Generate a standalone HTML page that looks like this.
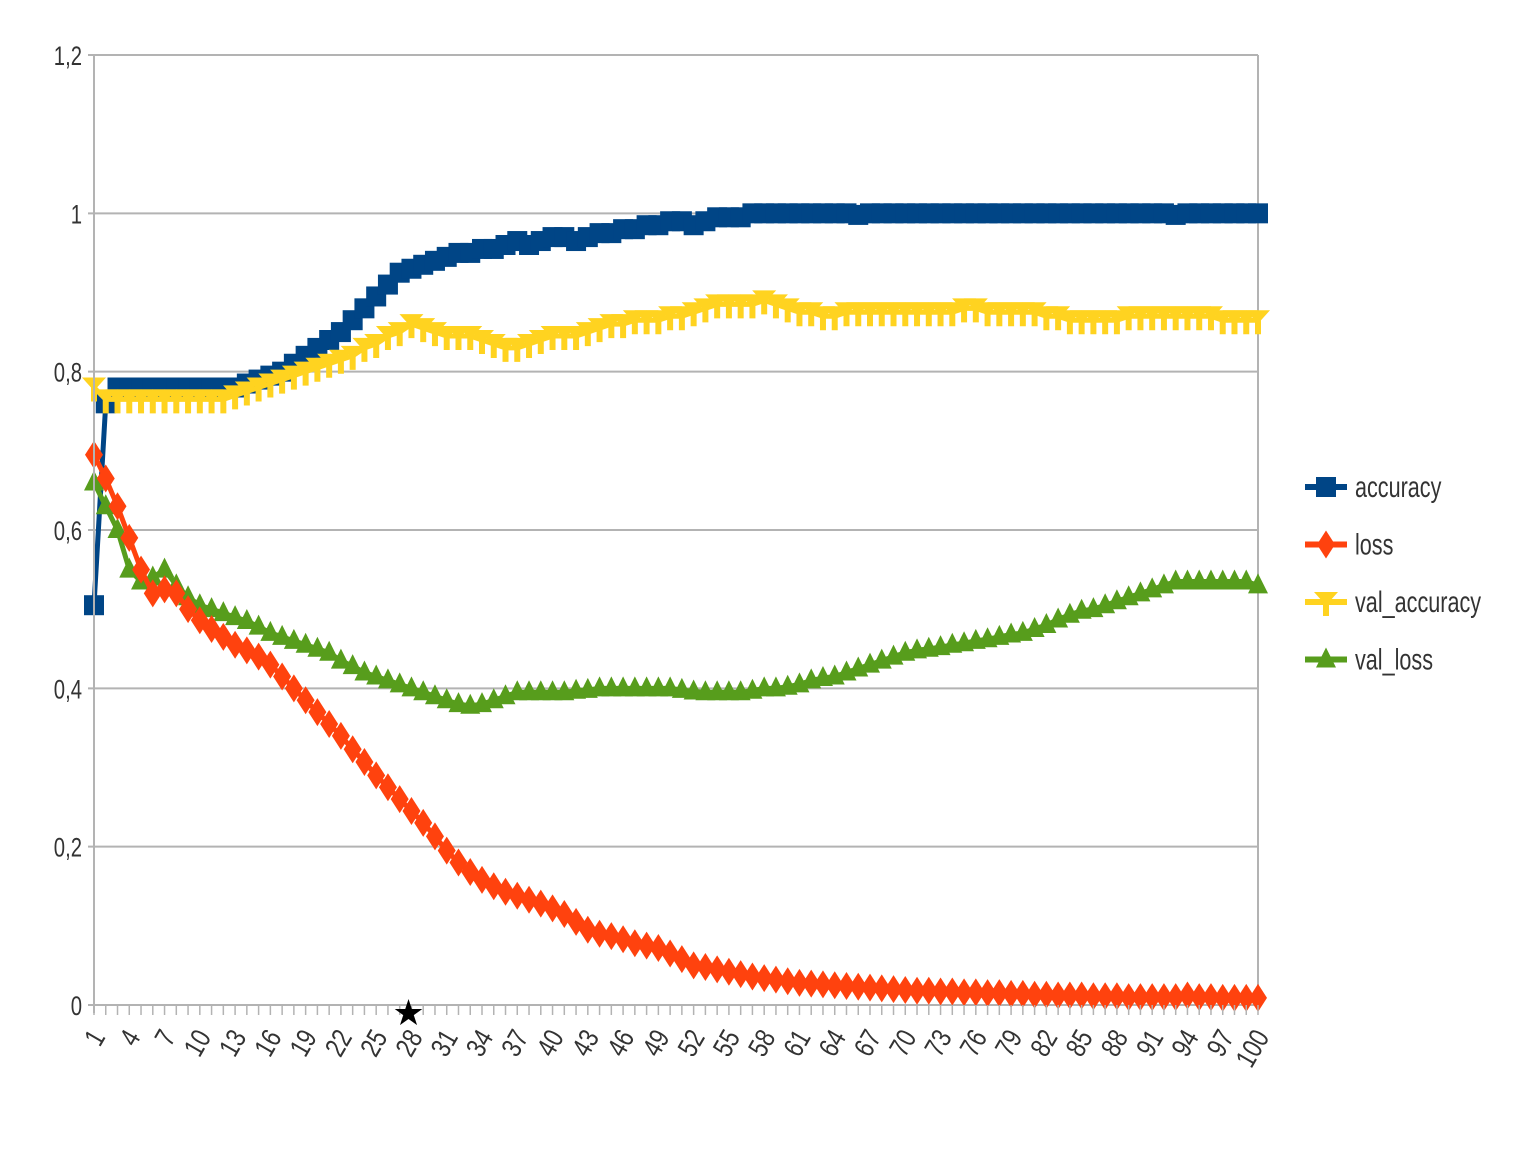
<!DOCTYPE html>
<html><head><meta charset="utf-8"><style>
body{margin:0;background:#fff;}
svg{display:block;font-family:"Liberation Sans Narrow","Liberation Sans",sans-serif;}
</style></head><body>
<svg id="chart" width="1525" height="1163" xmlns="http://www.w3.org/2000/svg">
<g id="grid"></g>
<g id="series"></g>
<g id="axes"></g>
<g id="legend"></g>
</svg>
<script>
const yTicks=[0,0.2,0.4,0.6,0.8,1,1.2];
const yTickLabels=["0","0,2","0,4","0,6","0,8","1","1,2"];
const seriesNames=["accuracy","loss","val_accuracy","val_loss"];
const accuracy=[.505,.76,.78,.78,.78,.78,.78,.78,.78,.78,.78,.78,.78,.785,.79,.795,.80,.81,.82,.83,.84,.85,.865,.88,.895,.91,.925,.93,.935,.94,.945,.95,.95,.955,.955,.96,.965,.96,.965,.97,.97,.965,.97,.975,.975,.98,.98,.985,.985,.99,.99,.985,.99,.995,.995,.995,1,1,1,1,1,1,1,1,1,.998,1,1,1,1,1,1,1,1,1,1,1,1,1,1,1,1,1,1,1,1,1,1,1,1,1,1,.998,1,1,1,1,1,1,1];
const valAccuracy=[.78,.765,.765,.765,.765,.765,.765,.765,.765,.765,.765,.765,.77,.775,.78,.785,.79,.795,.80,.805,.81,.815,.82,.83,.835,.845,.85,.86,.855,.85,.845,.845,.845,.84,.835,.83,.83,.835,.84,.845,.845,.845,.85,.855,.86,.86,.865,.865,.865,.87,.87,.875,.88,.885,.885,.885,.885,.89,.885,.88,.875,.875,.87,.87,.875,.875,.875,.875,.875,.875,.875,.875,.875,.875,.88,.88,.875,.875,.875,.875,.875,.87,.87,.865,.865,.865,.865,.865,.87,.87,.87,.87,.87,.87,.87,.87,.865,.865,.865,.865];
const loss=[.695,.665,.63,.59,.55,.52,.525,.52,.50,.486,.475,.465,.455,.448,.44,.43,.415,.40,.385,.37,.355,.34,.323,.307,.29,.275,.26,.245,.23,.213,.195,.18,.168,.158,.15,.143,.138,.133,.128,.122,.115,.105,.095,.09,.087,.083,.078,.075,.072,.065,.058,.05,.048,.045,.042,.039,.036,.034,.032,.03,.028,.027,.026,.025,.024,.023,.022,.021,.02,.019,.018,.018,.017,.017,.016,.016,.015,.015,.014,.014,.013,.013,.012,.012,.012,.011,.011,.011,.01,.01,.01,.01,.01,.012,.01,.01,.009,.009,.009,.009];
const valLoss=[.66,.63,.6,.55,.535,.54,.55,.53,.515,.505,.50,.495,.49,.485,.478,.47,.465,.46,.455,.45,.445,.435,.428,.42,.415,.41,.405,.40,.395,.39,.385,.38,.378,.38,.385,.39,.395,.395,.395,.395,.395,.397,.398,.40,.40,.40,.40,.40,.40,.40,.398,.396,.395,.395,.395,.395,.397,.40,.40,.402,.405,.41,.413,.415,.42,.425,.43,.435,.44,.445,.448,.45,.452,.455,.457,.46,.462,.465,.468,.47,.475,.48,.487,.493,.498,.50,.505,.51,.515,.52,.525,.53,.535,.535,.535,.535,.535,.535,.535,.53];
const starEpoch=28;

const NS="http://www.w3.org/2000/svg";
const X0=94,X1=1258,Y0=1005,Y1=55,N=100;
const xs=i=>X0+(i-1)*(X1-X0)/(N-1);
const ys=v=>Y0-(v/1.2)*(Y0-Y1);
function mk(tag,parent,attrs){const e=document.createElementNS(NS,tag);for(const k in attrs)e.setAttribute(k,attrs[k]);parent.appendChild(e);return e;}
function narrow(t,f){const w=t.getComputedTextLength();t.setAttribute('textLength',(w*f).toFixed(1));t.setAttribute('lengthAdjust','spacingAndGlyphs');}
const grid=document.getElementById('grid'),axes=document.getElementById('axes'),ser=document.getElementById('series'),leg=document.getElementById('legend');

yTicks.forEach((t,i)=>{
  const l=mk('line',grid,{x1:X0-6,x2:X1,y1:ys(t),y2:ys(t),stroke:'#b3b3b3','stroke-width':2});
  
  
  const tx=mk('text',axes,{x:X0-12,y:ys(t)+10,'text-anchor':'end','font-size':27,fill:'#333'});
  tx.textContent=yTickLabels[i];
  
  
  narrow(tx,0.75);
});
const ax=mk('line',axes,{x1:X0,x2:X0,y1:Y1,y2:Y0+8,stroke:'#b3b3b3','stroke-width':2});


const rx=mk('line',grid,{x1:X1,x2:X1,y1:Y1,y2:Y0,stroke:'#b3b3b3','stroke-width':2});


for(let i=1;i<=N;i++){
  const t=mk('line',axes,{x1:xs(i),x2:xs(i),y1:Y0,y2:Y0+10,stroke:'#b3b3b3','stroke-width':1.5});
  
  
  if((i-1)%3===0||i===N){
    const tx=mk('text',axes,{x:0,y:0,'text-anchor':'end','font-size':28,fill:'#333',transform:`translate(${xs(i)+12},${Y0+32}) rotate(-60)`});
    tx.textContent=String(i);
    
    
    narrow(tx,0.8);
  }
}
function marker(g,type,x,y,c,s){
  let e;
  if(type==='square')e=mk('rect',g,{x:x-s/2,y:y-s/2,width:s,height:s,fill:c});
  else if(type==='diamond')e=mk('polygon',g,{points:`${x},${y-s*0.7} ${x+s*0.45},${y} ${x},${y+s*0.7} ${x-s*0.45},${y}`,fill:c});
  else if(type==='cross')e=mk('path',g,{d:`M${x-s*0.6},${y-s*0.5}H${x+s*0.6}L${x+s*0.15},${y}V${y+s*0.7}H${x-s*0.15}V${y}Z`,fill:c});
  else e=mk('polygon',g,{points:`${x},${y-s*0.6} ${x+s*0.5},${y+s*0.4} ${x-s*0.5},${y+s*0.4}`,fill:c});
  return e;
}
const defs=[
  {name:'accuracy',data:accuracy,color:'#004586',m:'square'},
  {name:'val_loss',data:valLoss,color:'#579d1c',m:'triangle'},
  {name:'loss',data:loss,color:'#ff420e',m:'diamond'},
  {name:'val_accuracy',data:valAccuracy,color:'#ffd320',m:'cross'}
];
defs.forEach(d=>{
  const g=mk('g',ser,{});
  
  
  const pts=d.data.map((v,i)=>`${xs(i+1)},${ys(v)}`).join(' ');
  const pl=mk('polyline',g,{points:pts,fill:'none',stroke:d.color,'stroke-width':5});
  
  
  d.data.forEach((v,i)=>{
    const m=marker(g,d.m,xs(i+1),ys(v),d.color,20);
    
    
  });
});
const st=mk('text',axes,{x:xs(starEpoch)-3,y:Y0+20,'text-anchor':'middle','font-size':36,fill:'#000'});
st.textContent='★';



const legendOrder=[defs[0],defs[2],defs[3],defs[1]];
legendOrder.forEach((d,i)=>{
  const y=487+i*57.5;
  const g=mk('g',leg,{});
  
  
  mk('line',g,{x1:1305,x2:1347,y1:y,y2:y,stroke:d.color,'stroke-width':6});
  marker(g,d.m,1326,y,d.color,20);
  const t=mk('text',g,{x:1355,y:y+10,'font-size':30,fill:'#333'});
  t.textContent=d.name;
  narrow(t,0.72);
});
</script>
</body></html>
